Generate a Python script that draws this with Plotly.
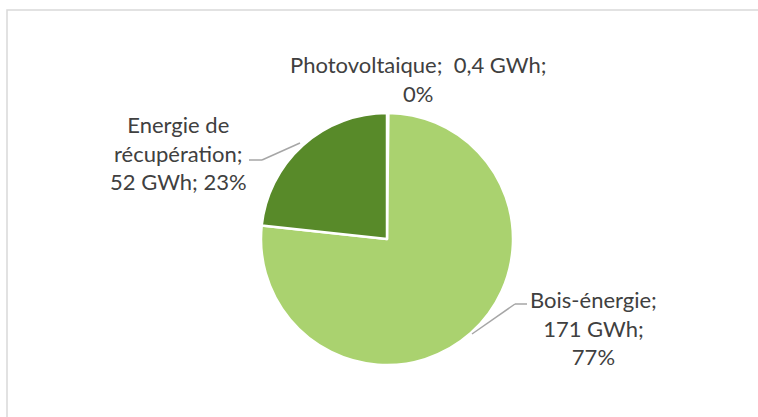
import plotly.graph_objects as go

# slices in clockwise order starting at 12 o'clock
labels = ["Photovoltaique", "Bois-énergie", "Energie de récupération"]
values = [0.4, 171, 52]
value_text = ["0,4", "171", "52"]
colors = ["#AAD26F", "#AAD26F", "#588A29"]

W, H = 758, 417


def px(x, y):
    return x / W, 1 - y / H


total = sum(values)
pcts = [round(v / total * 100) for v in values]
label_text = [
    f"{labels[0]};  {value_text[0]} GWh;<br>{pcts[0]}%",
    f"{labels[1]};<br>{value_text[1]} GWh;<br>{pcts[1]}%",
    "Energie de<br>récupération;<br>" + f"{value_text[2]} GWh; {pcts[2]}%",
]
label_pos = [(418, 79), (593, 328), (178, 153)]

fig = go.Figure()
fig.add_pie(
    labels=labels, values=values, sort=False, direction="clockwise", rotation=0,
    marker={"colors": colors, "line": {"color": "white", "width": 2.5}},
    textinfo="none", hoverinfo="label+value+percent", showlegend=False,
    domain={"x": [261 / W, 513 / W], "y": [(178 - 126) / H, (178 + 126) / H]},
)

for txt, (x, y) in zip(label_text, label_pos):
    ax, ay = px(x, y)
    fig.add_annotation(x=ax, y=ay, xref="paper", yref="paper", text=txt, showarrow=False,
                       xanchor="center", yanchor="middle", align="center",
                       font={"family": "Lato, Calibri, sans-serif", "size": 22, "color": "#404040"})

# leader lines
leaders = [
    [(249, 160), (262, 160), (300, 143)],
    [(527, 304), (515, 304), (472, 334)],
]
for pts in leaders:
    for (x0, y0), (x1, y1) in zip(pts[:-1], pts[1:]):
        a, b = px(x0, y0)
        c, d = px(x1, y1)
        fig.add_shape(type="line", xref="paper", yref="paper", x0=a, y0=b, x1=c, y1=d,
                      line={"color": "#A6A6A6", "width": 1.5})

# chart area frame (clipped at right / bottom as in the original)
fx0, fy0 = px(7, 10)
fig.add_shape(type="rect", xref="paper", yref="paper", x0=fx0, y0=-0.05, x1=1.05, y1=fy0,
              line={"color": "#D9D9D9", "width": 1.5}, fillcolor="rgba(0,0,0,0)")

fig.update_layout(
    width=W, height=H, margin={"l": 0, "r": 0, "t": 0, "b": 0},
    paper_bgcolor="white", plot_bgcolor="white",
)
fig.write_html("out.html", config={"displayModeBar": False},
               post_script="document.body.style.margin='0';")
